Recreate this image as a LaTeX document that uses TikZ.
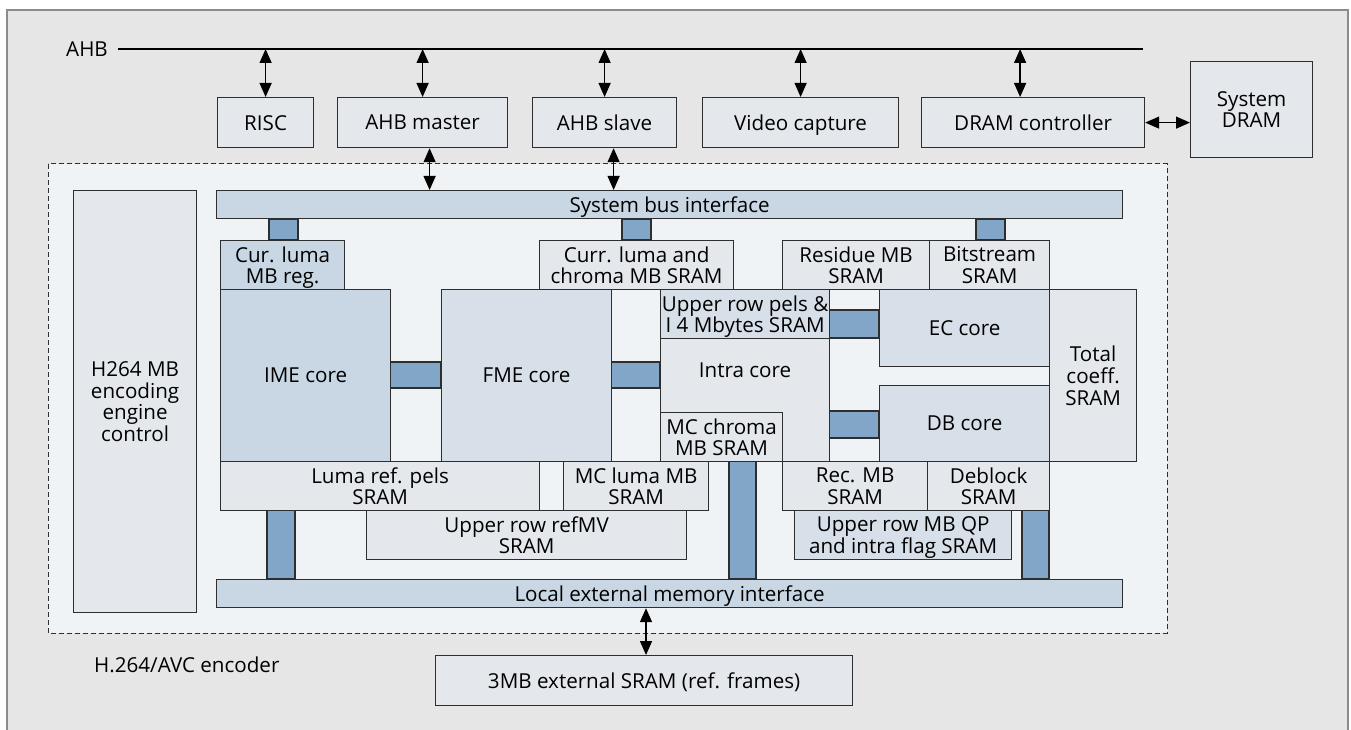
\documentclass[tikz,border=0pt]{standalone}
\usepackage{fontspec}
\setmainfont{Open Sans}
\usetikzlibrary{arrows.meta}

\definecolor{outerbg}{HTML}{E6E6E6}
\definecolor{outeredge}{HTML}{8C8C8C}
\definecolor{innerbg}{HTML}{F0F3F6}
\definecolor{edge}{HTML}{2E2E2E}
\definecolor{boxlt}{HTML}{E4E8EC}
\definecolor{boxmid}{HTML}{D7DFE8}
\definecolor{boxblue}{HTML}{C8D7E3}
\definecolor{linkblue}{HTML}{82A6C7}

\newcommand\txtsz{\fontsize{20.6}{21.8}\selectfont}

% name, style, x1, y1, x2, y2, text  (y grows downwards)
\newcommand\mkbox[7]{%
  \node[#2, anchor=north west,
        minimum width={(#5-#3)*1pt}, minimum height={(#6-#4)*1pt}]
        (#1) at (#3,#4) {#7};}

\tikzset{
  box/.style={draw=edge, line width=1.2pt, fill=boxlt, inner sep=0pt,
              align=center, font=\txtsz, text depth=0pt},
  midbox/.style={box, fill=boxmid},
  bluebox/.style={box, fill=boxblue},
  link/.style={draw=edge, line width=1.2pt, fill=linkblue},
  biarrow/.style={draw=black, line width=1.4pt,
                  {Triangle[length=14pt,width=12pt]}-{Triangle[length=14pt,width=12pt]}},
  plain/.style={font=\txtsz, inner sep=0pt, text depth=0pt}
}

\begin{document}
\begin{tikzpicture}[x=1pt,y=-1pt]
\useasboundingbox (0,0) rectangle (1351,730);

% outer system frame
\fill[white] (0,0) rectangle (1351,730);
\draw[outeredge, line width=1.6pt, fill=outerbg] (7,10) rectangle (1348,740);

% encoder region
\draw[edge, line width=1pt, dash pattern=on 5pt off 3pt, fill=innerbg]
  (48,164) rectangle (1167,633);

% AHB bus
\node[plain, anchor=east] (ahb) at (108,49) {AHB};
\coordinate (ahbL) at (118,49);
\coordinate (ahbR) at (1143,49);
\draw[black, line width=2.8pt] (ahbL) -- (ahbR);

% system-level blocks
\mkbox{risc}{box}{217}{97}{313}{147}{RISC}
\mkbox{amaster}{box}{337}{97}{507}{147}{AHB master}
\mkbox{aslave}{box}{532}{97}{676}{147}{AHB slave}
\mkbox{video}{box}{702}{97}{898}{147}{Video capture}
\mkbox{dramc}{box}{921}{97}{1144}{147}{DRAM controller}
\mkbox{sysdram}{box}{1190}{61}{1312}{157}{System\\DRAM}

% encoder interfaces and control
\mkbox{sbus}{bluebox}{216}{190}{1122}{218}{System bus interface}
\mkbox{lbus}{bluebox}{216}{579}{1122}{607}{Local external memory interface}
\mkbox{ctrl}{box}{73}{190}{196}{612}{H264 MB\\encoding\\engine\\control}
\mkbox{extsram}{box}{435}{655}{852}{705}{3MB external SRAM (ref. frames)}
\node[plain, anchor=west] (enclbl) at (94,665) {H.264/AVC encoder};

% datapath links (drawn below the blocks)
\draw[link] (269,0 |- sbus.south) rectangle (298,240);
\draw[link] (622,0 |- sbus.south) rectangle (651,240);
\draw[link] (976,0 |- sbus.south) rectangle (1005,240);
\draw[link] (390,362) rectangle (441,388);
\draw[link] (611,362) rectangle (660,388);
\draw[link] (829,310) rectangle (879,338);
\draw[link] (829,411) rectangle (879,438);
\draw[link] (267,510) rectangle (295,0 |- lbus.north);
\draw[link] (729,461) rectangle (756,0 |- lbus.north);
\draw[link] (1022,510) rectangle (1049,0 |- lbus.north);

% top row memories
\mkbox{curluma}{bluebox}{220}{240}{344}{289}{Cur. luma\\MB reg.}
\mkbox{curchroma}{box}{539}{240}{733}{289}{Curr. luma and\\chroma MB SRAM}
\mkbox{residue}{box}{782}{240}{929}{289}{Residue MB\\SRAM}
\mkbox{bitstream}{box}{929}{240}{1049}{289}{Bitstream\\SRAM}

% cores
\mkbox{ime}{bluebox}{220}{289}{390}{461}{IME core}
\mkbox{fme}{midbox}{441}{289}{611}{461}{FME core}
\mkbox{uppels}{midbox}{660}{289}{829}{338}{Upper row pels \&\\I 4 Mbytes SRAM}
\mkbox{intra}{box}{660}{338}{829}{461}{}
\node[plain] (intralbl) at (745,370) {Intra core};
\mkbox{mcchroma}{box}{660}{412}{782}{461}{MC chroma\\MB SRAM}
\mkbox{ec}{midbox}{879}{289}{1049}{366}{EC core}
\mkbox{db}{midbox}{879}{385}{1049}{461}{DB core}
\mkbox{totcoef}{box}{1049}{289}{1136}{461}{Total\\coeff.\\SRAM}

% bottom row memories
\mkbox{lumaref}{box}{220}{461}{539}{510}{Luma ref. pels\\SRAM}
\mkbox{mcluma}{box}{563}{461}{708}{510}{MC luma MB\\SRAM}
\mkbox{recmb}{box}{782}{461}{927}{510}{Rec. MB\\SRAM}
\mkbox{deblock}{box}{927}{461}{1049}{510}{Deblock\\SRAM}
\mkbox{refmv}{box}{366}{510}{686}{559}{Upper row refMV\\SRAM}
\mkbox{qpflag}{midbox}{794}{510}{1011}{559}{Upper row MB QP\\and intra flag SRAM}

% bus connections
\draw[biarrow] (risc.north) -- (risc.north |- ahbL);
\draw[biarrow] (amaster.north) -- (amaster.north |- ahbL);
\draw[biarrow] (aslave.north) -- (aslave.north |- ahbL);
\draw[biarrow] (video.north) -- (video.north |- ahbL);
\draw[biarrow] ([xshift=-13pt]dramc.north) -- ([xshift=-13pt]dramc.north |- ahbL);
\draw[biarrow] (dramc.east) -- (sysdram.west |- dramc.east);
\draw[biarrow] ([xshift=7pt]amaster.south) -- ([xshift=7pt]amaster.south |- sbus.north);
\draw[biarrow] ([xshift=9pt]aslave.south) -- ([xshift=9pt]aslave.south |- sbus.north);
\draw[biarrow] (646,0 |- lbus.south) -- (646,0 |- extsram.north);
\end{tikzpicture}
\end{document}
